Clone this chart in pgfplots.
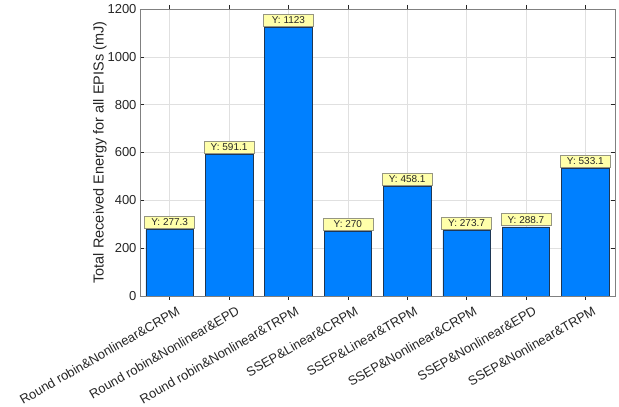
\documentclass[border=0pt]{standalone}
\usepackage{fontspec}
\setmainfont{Liberation Sans}
\usepackage{pgfplots}
\pgfplotsset{compat=1.18}
\definecolor{barblue}{RGB}{0,128,255}
\definecolor{baredge}{RGB}{30,55,85}
\definecolor{tipfill}{RGB}{255,255,170}
\definecolor{tipedge}{RGB}{150,150,130}
\definecolor{axgray}{RGB}{38,38,38}
\begin{document}
\begin{tikzpicture}[x=1pt,y=1pt]
\begin{axis}[
  scale only axis,
  width=475pt, height=287pt,
  xmin=0.5, xmax=8.5,
  ymin=0, ymax=1200,
  ytick={0,200,400,600,800,1000,1200},
  xtick={1,...,8},
  xticklabels={Round robin\&Nonlinear\&CRPM,Round robin\&Nonlinear\&EPD,Round robin\&Nonlinear\&TRPM,SSEP\&Linear\&CRPM,SSEP\&Linear\&TRPM,SSEP\&Nonlinear\&CRPM,SSEP\&Nonlinear\&EPD,SSEP\&Nonlinear\&TRPM},
  xticklabel style={rotate=30, anchor=north east, font=\fontsize{13}{14}\selectfont, text=axgray, inner sep=1pt, xshift=4pt, yshift=-7pt},
  yticklabel style={font=\fontsize{13}{14}\selectfont, text=axgray},
  /pgf/number format/assume math mode=true,
  /pgf/number format/1000 sep={},
  ylabel={Total Received Energy for all EPISs (mJ)},
  ylabel style={font=\fontsize{14.5}{15}\selectfont, text=axgray, yshift=-6pt},
  grid=major,
  major grid style={color=black!12, line width=0.5pt},
  axis line style={color=black!50, line width=0.6pt},
  tick style={color=axgray, line width=0.5pt},
  major tick length=4pt,
  tick align=inside,
  ybar,
  bar width=0.8,
  enlarge x limits=false,
  nodes near coords={Y: \pgfmathprintnumber[fixed,precision=1,1000 sep={}]{\pgfplotspointmeta}},
  every node near coord/.append style={font=\fontsize{10}{11}\selectfont, text=black!85, fill=tipfill, draw=tipedge, line width=0.6pt, inner sep=2.5pt, anchor=south, yshift=1pt, minimum width=50pt},
  point meta=y,
]
\addplot[fill=barblue, draw=baredge, line width=0.5pt] coordinates {
(1,277.3) (2,591.1) (3,1123) (4,270) (5,458.1) (6,273.7) (7,288.7) (8,533.1)};
\end{axis}
\path (-140pt,-105pt) rectangle (479pt,296pt);
\end{tikzpicture}
\end{document}
